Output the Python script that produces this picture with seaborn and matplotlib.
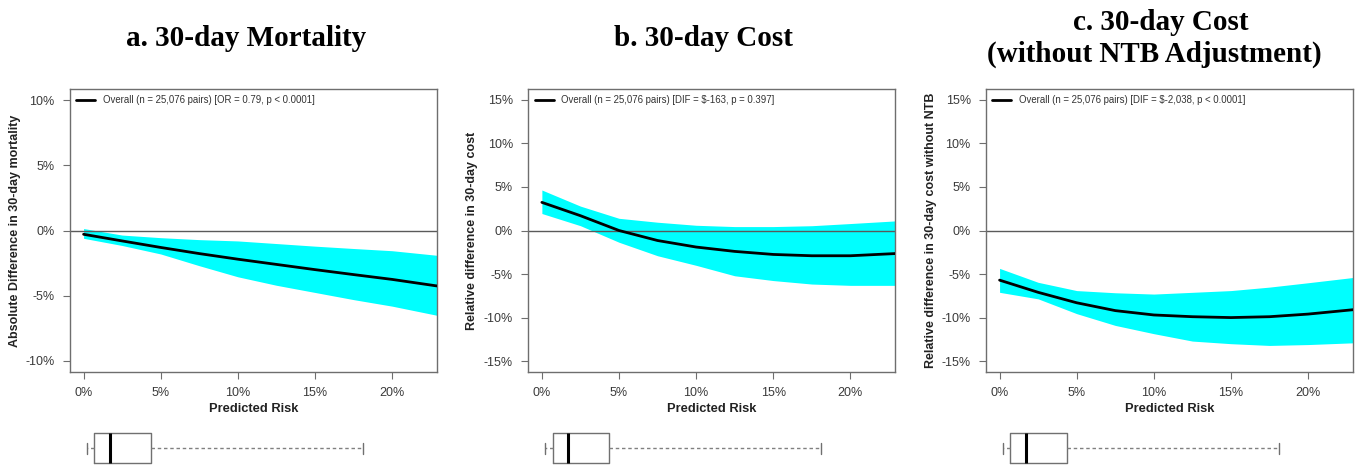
import numpy as np
import pandas as pd
import seaborn as sns
import matplotlib
matplotlib.use("Agg")
import matplotlib.pyplot as plt
from matplotlib.ticker import FuncFormatter

sns.set_theme(style="white")
plt.rcParams['font.family'] = ['Liberation Sans', 'DejaVu Sans']

# ---------------- data ----------------
risk = [0, 2.5, 5, 7.5, 10, 12.5, 15, 17.5, 20, 22.9]

mort_fit = [-0.29, -0.8, -1.3, -1.77, -2.2, -2.6, -3.0, -3.38, -3.75, -4.25]
mort_hi = [0.15, -0.35, -0.55, -0.7, -0.8, -1.0, -1.2, -1.38, -1.55, -1.9]
mort_lo = [-0.6, -1.15, -1.8, -2.7, -3.55, -4.2, -4.75, -5.3, -5.8, -6.5]

cost_fit = [3.23, 1.7, 0.0, -1.15, -1.9, -2.4, -2.75, -2.9, -2.9, -2.65]
cost_hi = [4.65, 2.8, 1.4, 0.95, 0.6, 0.45, 0.45, 0.55, 0.8, 1.1]
cost_lo = [1.95, 0.55, -1.35, -2.9, -4.0, -5.2, -5.75, -6.15, -6.3, -6.3]

ntb_fit = [-5.7, -7.1, -8.3, -9.2, -9.7, -9.9, -10.0, -9.9, -9.6, -9.1]
ntb_hi = [-4.35, -5.95, -6.9, -7.15, -7.3, -7.1, -6.9, -6.5, -6.0, -5.4]
ntb_lo = [-7.1, -7.85, -9.55, -10.9, -11.85, -12.7, -13.0, -13.2, -13.1, -12.9]

# predicted-risk distribution (boxplot summary, %)
risk_box = {"whislo": 0.23, "q1": 0.70, "med": 1.70, "q3": 4.35, "whishi": 18.1}

title_lines = [["a. 30-day Mortality"], ["b. 30-day Cost"],
               ["c. 30-day Cost", "(without NTB Adjustment)"]]
ylabels = ["Absolute Difference in 30-day mortality",
           "Relative difference in 30-day cost",
           "Relative difference in 30-day cost without NTB"]
legend_labels = ["Overall (n = 25,076 pairs) [OR = 0.79, p < 0.0001]",
                 "Overall (n = 25,076 pairs) [DIF = $-163, p = 0.397]",
                 "Overall (n = 25,076 pairs) [DIF = $-2,038, p < 0.0001]"]
xticks = [0, 5, 10, 15, 20]
yticks_list = [[-10, -5, 0, 5, 10], [-15, -10, -5, 0, 5, 10, 15], [-15, -10, -5, 0, 5, 10, 15]]
ylims = [(-10.85, 10.85), (-16.25, 16.25), (-16.25, 16.25)]
xlabel = "Predicted Risk"

panels = [(mort_fit, mort_hi, mort_lo), (cost_fit, cost_hi, cost_lo), (ntb_fit, ntb_hi, ntb_lo)]

# ---------------- layout ----------------
W, H = 1356, 466
fig = plt.figure(figsize=(W / 100, H / 100), dpi=100)
lefts_px = [70, 528.3, 986]
width_px = 366.5
top_px, bot_px = 89, 372
title_pos = [[(246, 38)], [(703, 38)], [(1160.5, 23), (1154, 54)]]
ylabel_x = [-0.134, -0.136, -0.134]

pct = FuncFormatter(lambda v, p: f"{v:g}%")
edge = "#6e6e6e"
tickc = "#3a3a3a"

for i, (fit, hi, lo) in enumerate(panels):
    ax = fig.add_axes([lefts_px[i] / W, 1 - bot_px / H, width_px / W, (bot_px - top_px) / H])
    df = pd.DataFrame({"risk": risk, "fit": fit, "hi": hi, "lo": lo})
    ax.fill_between(df["risk"], df["lo"], df["hi"], color="#00ffff", lw=0, zorder=1)
    ax.axhline(0, color="#5a5a5a", lw=1.0, zorder=2)
    sns.lineplot(data=df, x="risk", y="fit", ax=ax, color="black", lw=2.0,
                 label=legend_labels[i], zorder=3)
    ax.set_xlim(-0.88, 22.88)
    ax.set_ylim(*ylims[i])
    ax.set_xticks(xticks)
    ax.set_yticks(yticks_list[i])
    ax.xaxis.set_major_formatter(pct)
    ax.yaxis.set_major_formatter(pct)
    ax.tick_params(axis="both", direction="out", length=5, width=0.8, color=edge,
                   labelsize=9, labelcolor=tickc, pad=6, left=True, bottom=True)
    for s in ax.spines.values():
        s.set_color(edge)
        s.set_linewidth(1.0)
    ax.set_xlabel(xlabel, fontsize=9.3, fontweight="bold", color="#222222")
    ax.xaxis.set_label_coords(0.5, -0.108)
    ax.set_ylabel(ylabels[i], fontsize=9, fontweight="bold", color="#222222")
    ax.yaxis.set_label_coords(ylabel_x[i], 0.5)
    leg = ax.legend(loc="upper left", frameon=False, fontsize=6.9, handlelength=2.0,
                    borderaxespad=0.45, borderpad=0.2, handletextpad=0.8)
    for t in leg.get_texts():
        t.set_color("#333333")

    # boxplot of predicted risk below
    bx = fig.add_axes([lefts_px[i] / W, 0.0, width_px / W, 41 / H])
    stats = [dict(risk_box, label="")]
    bx.bxp(stats, positions=[0], widths=30, orientation="horizontal", showfliers=False,
           capwidths=11,
           boxprops=dict(color="#707070", lw=1.0),
           whiskerprops=dict(color="#808080", lw=1.0, linestyle=(0, (2.5, 2.0))),
           capprops=dict(color="#707070", lw=1.0),
           medianprops=dict(color="black", lw=2.2))
    bx.set_xlim(-0.88, 22.88)
    bx.set_ylim(-18, 23)
    bx.axis("off")

    for line, (tx, ty) in zip(title_lines[i], title_pos[i]):
        fig.text(tx / W, 1 - ty / H, line, ha="center", va="center",
                 fontsize=21, fontweight="bold", family=["Liberation Serif", "DejaVu Serif"],
                 color="black")

fig.savefig("out.png", dpi=100)
